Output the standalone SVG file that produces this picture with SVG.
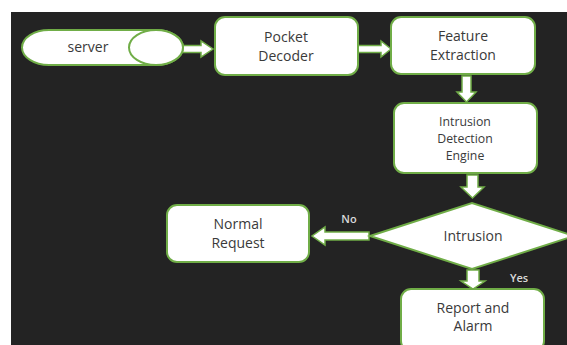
<svg xmlns="http://www.w3.org/2000/svg" width="567" height="345" viewBox="0 0 567 345">
<style>
.box{fill:#ffffff;stroke:#70ad47;stroke-width:2}
.arr{fill:#ffffff;stroke:#70ad47;stroke-width:1.5;stroke-linejoin:miter}
.t{font-family:"Open Sans","Liberation Sans",sans-serif;font-size:14px;fill:#3a3a3a;text-anchor:middle;dominant-baseline:central}
.s{font-size:12.3px}
.lbl{font-family:"Open Sans","Liberation Sans",sans-serif;font-size:11px;font-weight:600;fill:#d9d9d9;text-anchor:middle;dominant-baseline:central}
</style>
<rect x="0" y="0" width="567" height="345" fill="#ffffff"/>
<rect x="11" y="12" width="556" height="333" fill="#232323"/>
<g id="connectors">
<polygon class="arr" points="168,45.5 201,45.5 201,41 213,49 201,57 201,52.5 168,52.5"/>
<polygon class="arr" points="358,45.5 381,45.5 381,41 391,49 381,57 381,52.5 358,52.5"/>
<polygon class="arr" points="462,76 471,76 471,92 476,92 466.5,102 457,92 462,92"/>
<polygon class="arr" points="467,175 478,175 478,187 484,187 472.5,198 461,187 467,187"/>
<polygon class="arr" points="467,270 479,270 479,281 485,281 473,289 461,281 467,281"/>
<polygon class="arr" points="369,232 325,232 325,227 312,236 325,245 325,240 369,240"/>
<text class="lbl" x="349" y="218">No</text>
<text class="lbl" x="519" y="277">Yes</text>
</g>
<g id="server">
<path class="box" d="M49,30 L156,30 A27,17.5 0 0 1 156,65 L49,65 A27,17.5 0 0 1 49,30 Z"/>
<ellipse class="box" cx="156" cy="47.5" rx="27" ry="17.5"/>
<text class="t" x="88" y="46">server</text>
</g>
<g id="pocket-decoder">
<rect class="box" x="215" y="17" width="143" height="58" rx="10"/>
<text class="t" x="286" y="36">Pocket</text>
<text class="t" x="286" y="55">Decoder</text>
</g>
<g id="feature-extraction">
<rect class="box" x="391" y="17" width="144" height="57" rx="10"/>
<text class="t" x="463" y="35">Feature</text>
<text class="t" x="463" y="54">Extraction</text>
</g>
<g id="ids-engine">
<rect class="box" x="394" y="103" width="143" height="70" rx="10"/>
<text class="t s" x="465" y="121">Intrusion</text>
<text class="t s" x="465" y="138">Detection</text>
<text class="t s" x="465" y="155">Engine</text>
</g>
<g id="intrusion">
<polygon class="box" points="370,236 472,203 574,236 472,269"/>
<text class="t" x="473" y="235">Intrusion</text>
</g>
<g id="normal-request">
<rect class="box" x="167" y="205" width="142" height="57" rx="10"/>
<text class="t" x="238" y="223">Normal</text>
<text class="t" x="238" y="242">Request</text>
</g>
<g id="report-alarm">
<rect class="box" x="401" y="289" width="143" height="62" rx="10"/>
<text class="t" x="473" y="307">Report and</text>
<text class="t" x="473" y="325">Alarm</text>
</g>
</svg>
